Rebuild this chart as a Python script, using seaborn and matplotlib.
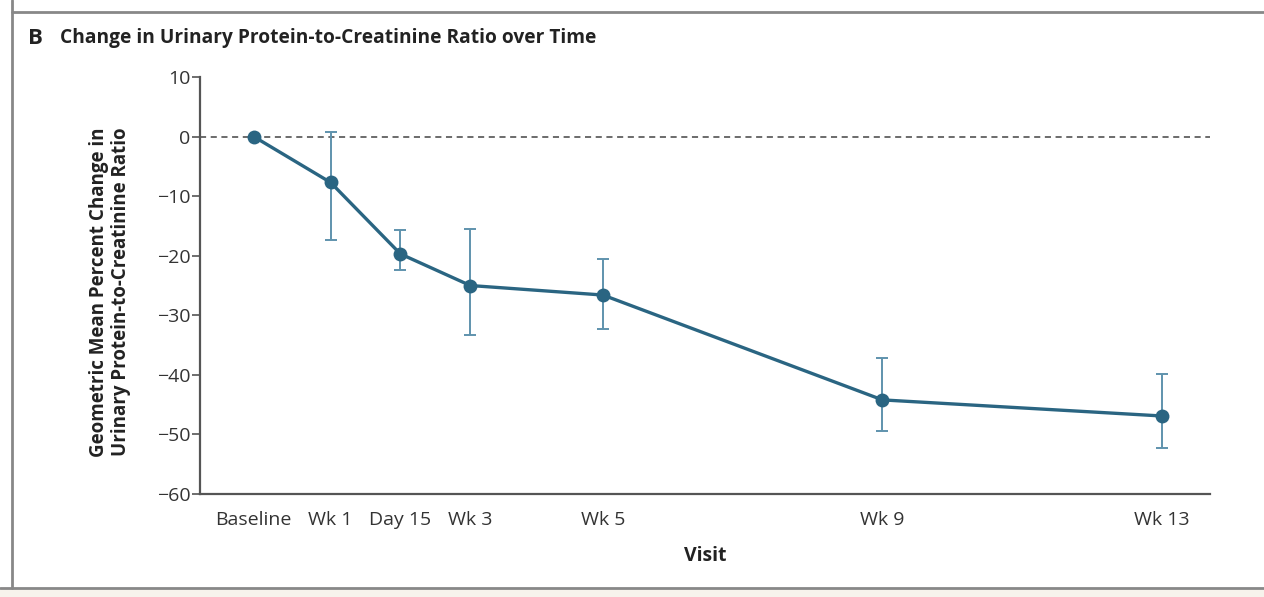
import numpy as np
import pandas as pd
import matplotlib
matplotlib.use('Agg')
import matplotlib.pyplot as plt
import seaborn as sns
from matplotlib.lines import Line2D

sns.set_style('white')
plt.rcParams['font.family'] = ['Open Sans', 'DejaVu Sans']

# Data
visits = ['Baseline', 'Wk 1', 'Day 15', 'Wk 3', 'Wk 5', 'Wk 9', 'Wk 13']
visit_pos = [0, 1.1, 2.1, 3.1, 5, 9, 13]
pct_change = [0, -7.7, -19.7, -25.0, -26.6, -44.2, -46.9]
ci_upper = [np.nan, 0.7, -15.6, -15.5, -20.5, -37.1, -39.8]
ci_lower = [np.nan, -17.3, -22.4, -33.3, -32.3, -49.4, -52.3]

df = pd.DataFrame({'visit': visits, 'pos': visit_pos, 'change': pct_change,
                   'hi': ci_upper, 'lo': ci_lower})

line_col = '#2a6582'
err_col = '#5f93ad'
axis_col = '#555555'

fig = plt.figure(figsize=(12.64, 5.97), dpi=100)
ax = fig.add_axes([0.1582, 0.1725, 0.7991, 0.6985])

# error bars
err = df.dropna()
ax.errorbar(err['pos'], err['change'],
            yerr=[err['change'] - err['lo'], err['hi'] - err['change']],
            fmt='none', ecolor=err_col, elinewidth=1.4, capsize=4, capthick=1.4, zorder=2)

sns.lineplot(data=df, x='pos', y='change', ax=ax, color=line_col, linewidth=2.4,
             marker='o', markersize=10, markeredgewidth=0, zorder=3)

ax.axhline(0, color='#444444', linestyle=(0, (4, 3)), linewidth=1.1, zorder=1)

ax.set_xlim(-0.77, 13.69)
ax.set_ylim(-60, 10)
ax.set_yticks(range(-60, 11, 10))
ax.set_yticklabels([str(v).replace('-', '\u2212') for v in range(-60, 11, 10)])
ax.set_xticks(visit_pos)
ax.set_xticklabels(visits)

for s in ['top', 'right']:
    ax.spines[s].set_visible(False)
for s in ['left', 'bottom']:
    ax.spines[s].set_color(axis_col)
    ax.spines[s].set_linewidth(1.6)

ax.tick_params(axis='y', which='both', left=True, length=6, width=1.2, color=axis_col,
               labelsize=14, labelcolor='#333333', pad=1)
ax.tick_params(axis='x', which='both', bottom=False, labelsize=14, labelcolor='#333333', pad=9)

ax.set_xlabel('Visit', fontsize=14, fontweight='bold', color='#222222', labelpad=12)
ax.set_ylabel('Geometric Mean Percent Change in\nUrinary Protein-to-Creatinine Ratio',
              fontsize=13.5, fontweight='bold', color='#222222', linespacing=1.15)
ax.yaxis.set_label_coords(-0.068, 0.484)

# title
fig.text(28 / 1264, 1 - 38 / 597, 'B', fontsize=16, fontweight='bold', color='#222222', va='center')
fig.text(60 / 1264, 1 - 38 / 597, 'Change in Urinary Protein-to-Creatinine Ratio over Time',
         fontsize=13.8, fontweight='bold', color='#222222', va='center')

# panel frame lines
fig.add_artist(Line2D([12 / 1264, 12 / 1264], [1, 1 - 588 / 597], transform=fig.transFigure,
                      color='#888888', linewidth=2))
fig.add_artist(Line2D([12 / 1264, 1], [1 - 12 / 597, 1 - 12 / 597], transform=fig.transFigure,
                      color='#888888', linewidth=2))
fig.add_artist(Line2D([0, 1], [1 - 588 / 597, 1 - 588 / 597], transform=fig.transFigure,
                      color='#888888', linewidth=2))
fig.patches.append(plt.Rectangle((0, 0), 1, 1 - 589 / 597, transform=fig.transFigure,
                                 color='#f7f3ec', zorder=0))

fig.savefig('out.png', dpi=100)
